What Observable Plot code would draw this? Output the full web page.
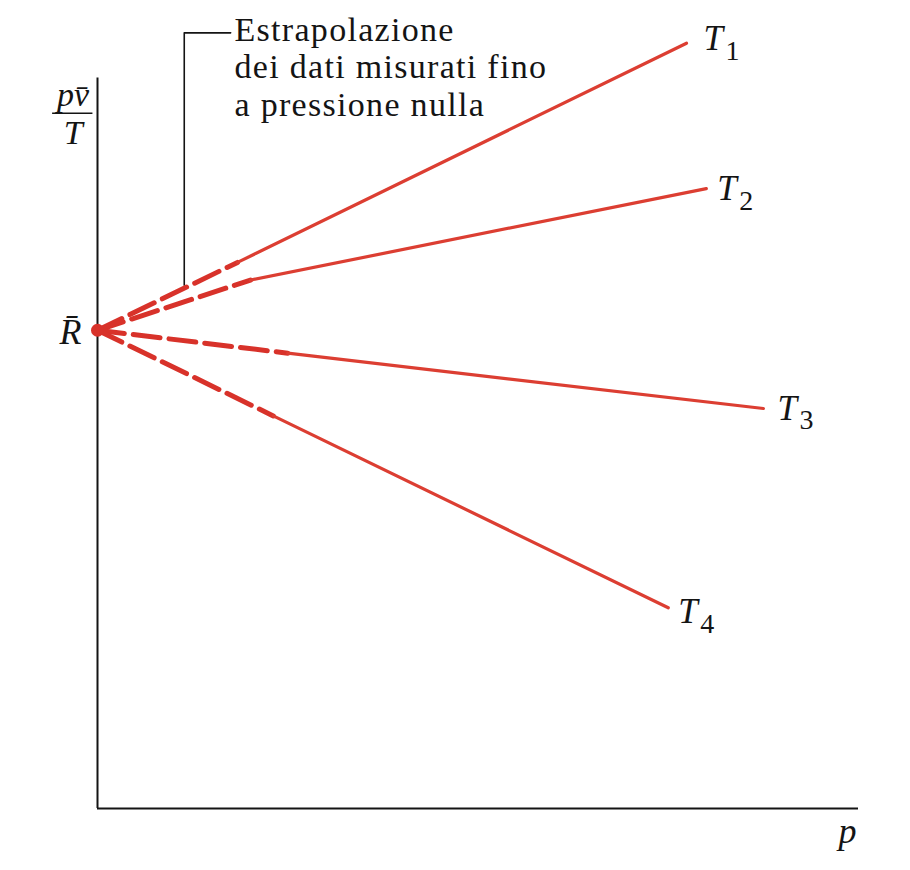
<!DOCTYPE html>
<html>
<head>
<meta charset="utf-8">
<script src="https://cdn.jsdelivr.net/npm/d3@7"></script>
<script src="https://cdn.jsdelivr.net/npm/@observablehq/plot@0.6"></script>
<style>
  html, body { margin: 0; padding: 0; background: #fff; }
  svg text { font-family: "Liberation Serif", "Times New Roman", Times, serif; }
</style>
</head>
<body>
<div id="chart"></div>
<script>
// ---- data (arbitrary units) ----
const series = ["1", "2", "3", "4"];          // temperatures T1..T4
const Rbar = 64.8;                              // common intercept at p = 0
const pKnee = [18.4, 20.1, 25.0, 23.1];         // start of measured data
const vKnee = [74.0, 71.6, 61.7, 53.2];
const pEnd  = [77.4, 80.0, 87.5, 75.0];         // end of measured data
const vEnd  = [103.7, 84.0, 54.2, 27.2];
const annotationText = "Estrapolazione\ndei dati misurati fino\na pressione nulla";

// ---- tables built from the arrays ----
const extrap = series.flatMap((s, i) => [
  {s, p: 0, v: Rbar},
  {s, p: pKnee[i], v: vKnee[i]}
]);
const measured = series.flatMap((s, i) => [
  {s, p: pKnee[i], v: vKnee[i]},
  {s, p: pEnd[i], v: vEnd[i]}
]);
const ends = series.map((s, i) => ({s, p: pEnd[i], v: vEnd[i]}));
const labelDx = [17, 11, 14, 10];
const labelDy = [-4, 0, 0, 4];

const red = "#d8322a";
const serif = "Liberation Serif, Times New Roman, Times, serif";
const ink = "#141414";

const marks = [
  // axes
  Plot.ruleX([0], {y1: 0, y2: 99, stroke: ink, strokeWidth: 2}),
  Plot.ruleY([0], {x1: 0, x2: 100, stroke: ink, strokeWidth: 2.2}),
  // annotation bracket
  Plot.line([{p: 11.4, v: 70.9}, {p: 11.4, v: 105.1}, {p: 17.5, v: 105.1}],
    {x: "p", y: "v", stroke: ink, strokeWidth: 1.6}),
  Plot.text([annotationText], {x: 18.0, y: 107.6, text: d => d, textAnchor: "start",
    lineAnchor: "top", lineHeight: 1.1, fontSize: 34, fill: ink, fontFamily: serif}),
  // extrapolated (dashed) and measured (solid) segments
  Plot.line(extrap, {x: "p", y: "v", z: "s", stroke: red, strokeWidth: 5,
    strokeDasharray: "27,9"}),
  Plot.line(measured, {x: "p", y: "v", z: "s", stroke: "#dc3e32", strokeWidth: 3.2}),
  Plot.dot([{p: 0, v: Rbar}], {x: "p", y: "v", r: 6.5, fill: red, stroke: "none"}),
  // y-axis label (fraction) and R-bar
  Plot.text(["p\u0076\u0304"], {x: -3.2, y: 95.2, text: d => d, textAnchor: "middle",
    lineAnchor: "bottom", fontSize: 34, fontStyle: "italic", fill: ink, fontFamily: serif}),
  Plot.ruleY([94.2], {x1: -5.9, x2: -0.6, stroke: ink, strokeWidth: 1.6}),
  Plot.text(["T"], {x: -3.2, y: 90.0, text: d => d, textAnchor: "middle",
    lineAnchor: "bottom", fontSize: 34, fontStyle: "italic", fill: ink, fontFamily: serif}),
  Plot.text(["R\u0304"], {x: -2.1, y: Rbar, text: d => d, textAnchor: "end",
    lineAnchor: "middle", dy: 2, fontSize: 36, fontStyle: "italic", fill: ink, fontFamily: serif}),
  Plot.text(["p"], {x: 100, y: 0, text: d => d, textAnchor: "end",
    lineAnchor: "bottom", dy: 34, dx: -2, fontSize: 36, fontStyle: "italic", fill: ink, fontFamily: serif})
];

// T labels with subscripts, one pair per series
series.forEach((s, i) => {
  const d = [ends[i]];
  marks.push(Plot.text(d, {x: "p", y: "v", text: () => "T", textAnchor: "start",
    lineAnchor: "middle", dx: labelDx[i], dy: labelDy[i], fontSize: 35,
    fontStyle: "italic", fill: ink, fontFamily: serif}));
  marks.push(Plot.text(d, {x: "p", y: "v", text: () => s, textAnchor: "start",
    lineAnchor: "middle", dx: labelDx[i] + 22, dy: labelDy[i] + 12, fontSize: 28,
    fill: ink, fontFamily: serif}));
});

const chart = Plot.plot({
  width: 910,
  height: 870,
  marginLeft: 97,
  marginRight: 52,
  marginTop: 70,
  marginBottom: 62,
  x: {domain: [0, 100], axis: null},
  y: {domain: [0, 100], axis: null},
  style: {fontFamily: serif, background: "#fff", overflow: "visible"},
  marks
});
// widen the annotation's letter spacing to match the printed typeface
d3.select(chart).selectAll("text")
  .filter(function () { return this.textContent.startsWith("Estrapolazione"); })
  .style("letter-spacing", "1.3px");
document.getElementById("chart").appendChild(chart);
</script>
</body>
</html>
